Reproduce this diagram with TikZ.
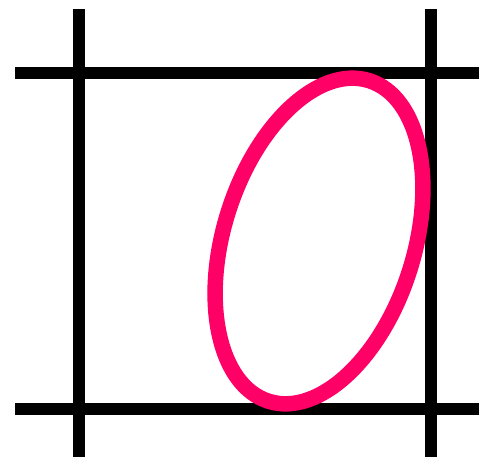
\documentclass[tikz,border=0pt]{standalone}
\usepackage{xcolor}
\usepackage{tikz}
\definecolor{hotpink}{RGB}{255,0,102}

\begin{document}
\begin{tikzpicture}[x=1pt,y=1pt,
        bar/.style={draw=black, line width=12pt},
        ring/.style={draw=hotpink, line width=15.5pt}]
        \useasboundingbox (0,0) rectangle (479,458);
        % frame lines
        \draw[bar] (79,1) -- (79,449);
        \draw[bar] (431,1) -- (431,449);
        \draw[bar] (15,385) -- (479,385);
        \draw[bar] (15,49) -- (479,49);
        % tilted ellipse
        \draw[ring, rotate around={72.6:(319,217)}] (319,217) ellipse [x radius=168, y radius=95.3];
      \end{tikzpicture}
\end{document}
